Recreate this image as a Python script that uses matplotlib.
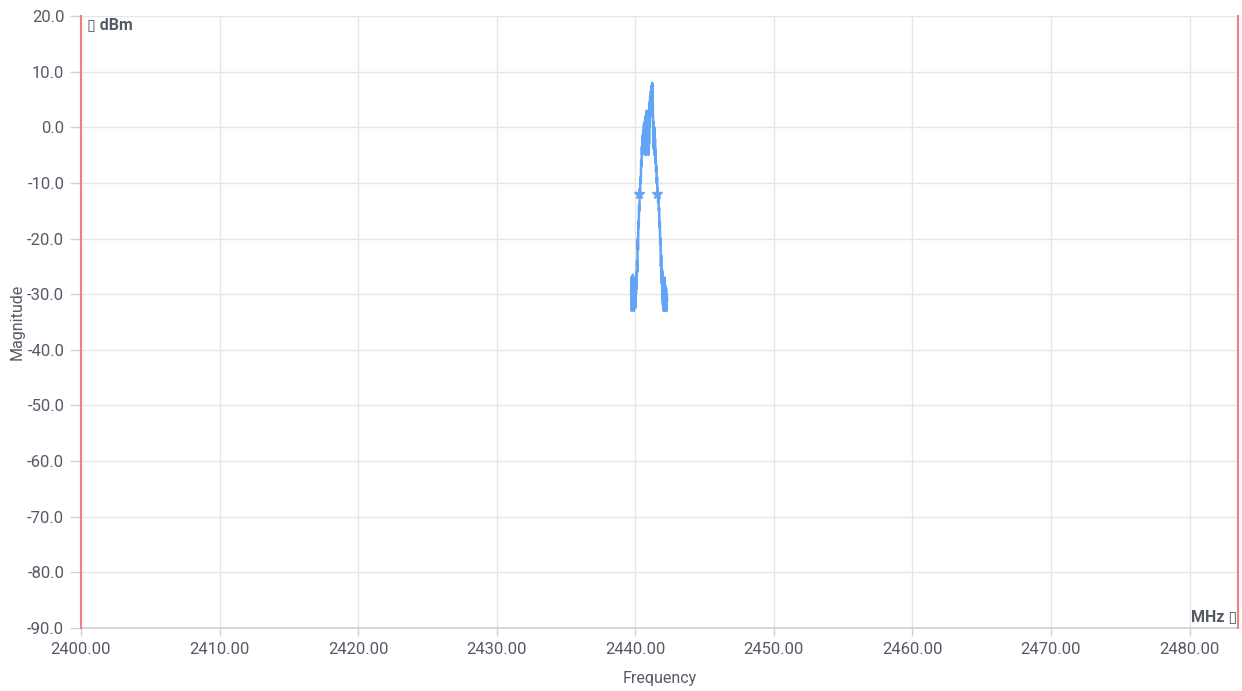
import numpy as np
import matplotlib

matplotlib.use("Agg")
import matplotlib.pyplot as plt

# spectrum trace, 25 kHz bins starting at 2439.700 MHz
f_start = 2439.700
f_step = 0.025
magnitude = [
    -30, -27, -33, -28, -31, -26.5, -32, -29, -33, -27,
    -31, -28, -32.5, -27.5, -30, -26, -29, -24, -26, -20,
    -22, -17, -18, -14, -15, -11, -12.5, -9, -10, -6,
    -7, -3.5, -5, -1.5, -4, -0.5, -3, 0.5, -4.5, 1,
    -2.5, 2, -5, 1.5, -3, 3, -2, 2.5, -4, 0,
    -5, 3, -3, 4.5, 0, 5.5, 2, 6.5, 3, 7.5,
    4, 8, 6, 3, -3.5, 1, -4, 0, -5, -2,
    -6.5, -4, -8, -7, -10, -9, -12, -11, -13.5, -12.5,
    -15, -14.5, -18, -17, -21, -20, -25, -23, -28, -25.5,
    -31, -26, -32, -27.5, -33, -28, -31.5, -27, -33, -28.5,
    -32, -29, -33, -30, -31,
]
freq = f_start + f_step * np.arange(len(magnitude))

# -12 dB bandwidth markers
marker_freq = [2440.29, 2441.59]
marker_mag = [-12.0, -12.0]

band_edges = [2400.0, 2483.5]
x_ticks = [2400, 2410, 2420, 2430, 2440, 2450, 2460, 2470, 2480]
y_ticks = [20, 10, 0, -10, -20, -30, -40, -50, -60, -70, -80, -90]

TEXT = "#555b66"
GRID = "#e6e6e6"
LINE = "#62a5f6"
EDGE = "#f47f7f"

plt.rcParams["font.family"] = ["Roboto", "DejaVu Sans"]

fig = plt.figure(figsize=(12.42, 6.91), dpi=100)
ax = fig.add_axes([0.0652, 0.0912, 0.9316, 0.8856])

ax.plot(freq, magnitude, color=LINE, lw=1.8, zorder=3)
ax.plot(marker_freq, marker_mag, ls="none", marker="*", ms=7, color=LINE, zorder=4)

for f in band_edges:
    ax.axvline(f, color=EDGE, lw=1.5, zorder=5, clip_on=False)

ax.set_xlim(band_edges[0], band_edges[1])
ax.set_ylim(-90, 20)
ax.set_xticks(x_ticks)
ax.set_xticklabels([f"{t:.2f}" for t in x_ticks])
ax.set_yticks(y_ticks)
ax.set_yticklabels([f"{t:.1f}" for t in y_ticks])
ax.grid(True, color=GRID, lw=1)
ax.set_axisbelow(True)

for side in ["top", "right", "left"]:
    ax.spines[side].set_visible(False)
ax.spines["bottom"].set_color("#ccd0d8")
ax.spines["bottom"].set_linewidth(1.2)

ax.tick_params(axis="both", colors="#ccd0d8", labelcolor=TEXT, labelsize=12)
ax.tick_params(axis="y", length=8, width=1, pad=4)
ax.tick_params(axis="x", length=6, width=1, pad=4)

ax.set_xlabel("Frequency", color=TEXT, fontsize=11.5, labelpad=10)
ax.set_ylabel("Magnitude", color=TEXT, fontsize=11.5, labelpad=2)

ax.text(0.005, 0.998, "\u25af dBm", transform=ax.transAxes, ha="left", va="top",
        fontsize=11.5, fontweight="bold", color=TEXT,
        family=["Roboto", "DejaVu Sans"])
ax.text(0.999, 0.006, "MHz \u25af", transform=ax.transAxes, ha="right", va="bottom",
        fontsize=11.5, fontweight="bold", color=TEXT,
        family=["Roboto", "DejaVu Sans"])

fig.savefig("out.png", dpi=100)
